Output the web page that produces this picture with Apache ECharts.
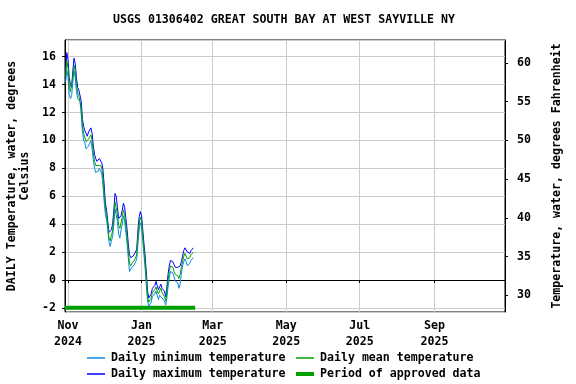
<!DOCTYPE html>
<html>
<head>
<meta charset="utf-8">
<script src="https://cdn.jsdelivr.net/npm/echarts@6/dist/echarts.min.js"></script>
<style>
html,body{margin:0;padding:0;background:#fff;}
#chart{width:576px;height:384px;}
</style>
</head>
<body>
<div id="chart"></div>
<script>
// ---- data ----
const titleText = 'USGS 01306402 GREAT SOUTH BAY AT WEST SAYVILLE NY';
const firstDay = '2024-10-30';
const dailyMax = [
  15.0,16.3,15.8,14.5,14.0,13.8,15.0,15.9,15.5,14.5,
  13.8,13.6,13.5,12.8,11.5,11.0,10.7,10.5,10.3,10.6,
  10.7,10.9,10.5,9.6,9.0,8.7,8.5,8.6,8.7,8.6,
  8.4,7.9,6.8,5.5,5.0,4.2,3.4,3.3,3.6,4.0,
  5.0,6.2,6.0,5.2,4.4,4.3,4.6,5.0,5.5,5.2,
  4.4,3.6,2.6,1.8,1.6,1.6,1.7,1.8,2.0,2.2,
  3.6,4.5,4.9,4.6,3.6,2.6,1.7,0.5,-0.8,-1.3,
  -1.4,-1.0,-0.6,-0.7,-0.4,-0.1,-0.4,-0.7,-0.5,-0.3,
  -0.6,-0.7,-0.8,-1.2,-0.5,0.4,1.0,1.4,1.4,1.3,
  1.1,0.9,1.0,0.9,0.8,1.0,1.3,1.7,2.1,2.3,
  2.2,2.0,1.9,1.9,2.1,2.2,2.3
];
const dailyMin = [
  14.2,15.0,14.6,13.3,13.0,13.2,14.2,15.0,14.5,13.5,
  13.0,12.9,12.8,11.8,10.6,10.0,9.8,9.4,9.3,9.6,
  9.8,10.0,9.4,8.6,8.0,7.7,7.6,7.8,8.0,7.9,
  7.6,6.8,5.6,4.7,4.3,3.6,2.7,2.4,2.8,3.1,
  4.0,5.1,5.0,4.2,3.3,3.0,3.6,4.0,4.6,4.2,
  3.4,2.6,1.6,0.6,0.5,0.9,1.0,1.1,1.3,1.5,
  2.6,3.6,4.1,3.8,2.8,1.8,0.8,-0.4,-1.5,-1.9,
  -1.8,-1.6,-1.2,-1.3,-1.0,-0.8,-1.1,-1.4,-1.1,-1.0,
  -1.3,-1.4,-1.5,-1.8,-1.3,-0.5,0.1,0.6,0.7,0.5,
  0.2,-0.1,0.0,-0.2,-0.6,-0.3,0.4,1.0,1.3,1.5,
  1.3,1.0,1.1,1.2,1.4,1.5,1.6
];
const dailyMean = [
  14.6,15.7,15.2,13.9,13.5,13.5,14.6,15.4,15.0,14.0,
  13.4,13.2,13.1,12.3,11.0,10.5,10.2,9.9,9.8,10.1,
  10.2,10.4,10.0,9.1,8.5,8.2,8.1,8.2,8.3,8.2,
  8.0,7.3,6.2,5.1,4.6,3.9,3.0,2.8,3.2,3.5,
  4.5,5.6,5.5,4.7,3.9,3.7,4.1,4.5,5.0,4.7,
  3.9,3.1,2.1,1.2,1.0,1.2,1.3,1.4,1.6,1.8,
  3.1,4.0,4.5,4.2,3.2,2.2,1.2,0.0,-1.2,-1.6,
  -1.6,-1.3,-0.9,-1.0,-0.7,-0.5,-0.8,-1.0,-0.8,-0.6,
  -0.9,-1.0,-1.2,-1.5,-0.9,0.0,0.6,1.0,1.0,0.9,
  0.6,0.4,0.5,0.3,0.1,0.4,0.9,1.3,1.7,1.9,
  1.8,1.5,1.5,1.6,1.8,1.9,2.0
];
const approvedStart = '2024-10-29T12:00:00Z';
const approvedEnd = '2025-02-14T12:00:00Z';
const approvedLevel = -2;
const xTickDates = ['2024-11-01','2025-01-01','2025-03-01','2025-05-01','2025-07-01','2025-09-01'];
const monthNames = ['Jan','Feb','Mar','Apr','May','Jun','Jul','Aug','Sep','Oct','Nov','Dec'];
const xMinDate = '2024-10-29T12:00:00Z';
const xMaxDate = '2025-10-29T12:00:00Z';
const yMinC = -2.3, yMaxC = 17.2;
const seriesNames = ['Daily minimum temperature','Daily mean temperature','Daily maximum temperature','Period of approved data'];
const seriesColors = ['#0a8ae0','#00a000','#0000ff','#00a000'];

// ---- build ----
const DAY = 86400000;
const t0 = Date.parse(firstDay + 'T00:00:00Z');
function toPairs(arr){ return arr.map((v,i)=>[t0 + i*DAY, v]); }
const tickVals = xTickDates.map(d=>Date.parse(d+'T00:00:00Z'));
const FONT = 'DejaVu Sans Mono';
const txt = {fontFamily: FONT, fontWeight: 'bold', fontSize: 11.6, color: '#000'};

function legendItem(idx, left, top, h){
  return {data: [{name: seriesNames[idx], icon: 'rect', itemStyle: {color: seriesColors[idx]}}],
    left: left, top: top, itemWidth: 18, itemHeight: h, padding: 0,
    textStyle: Object.assign({padding: [0,0,0,1]}, txt)};
}

const chart = echarts.init(document.getElementById('chart'), null, {renderer:'canvas'});
chart.setOption({
  animation: false,
  backgroundColor: '#fff',
  title: {text: titleText, left: 113, top: 14, padding: 0, textStyle: Object.assign({}, txt)},
  grid: {left: 65, right: 71, top: 40, bottom: 72, show: true, borderColor: '#000', borderWidth: 1,
         backgroundColor: 'transparent', containLabel: false, outerBoundsMode: 'none'},
  legend: [
    legendItem(0, 87, 352, 1.5),
    legendItem(1, 296, 352, 1.5),
    legendItem(2, 87, 368, 1.5),
    legendItem(3, 296, 368, 4)
  ],
  xAxis: {
    type: 'value', min: Date.parse(xMinDate), max: Date.parse(xMaxDate),
    axisLine: {show: true, lineStyle: {color: '#000', width: 1}},
    axisTick: {show: true, length: 3, inside: false, customValues: tickVals, lineStyle: {color: '#000'}},
    axisLabel: Object.assign({customValues: tickVals, margin: 6, lineHeight: 16,
      formatter: v => { const d = new Date(v); return monthNames[d.getUTCMonth()] + '\n' + d.getUTCFullYear(); }}, txt),
    splitLine: {show: true, lineStyle: {color: '#cccccc', width: 1}}
  },
  yAxis: [
    {
      type: 'value', min: yMinC, max: yMaxC, splitNumber: 10, position: 'left',
      name: 'DAILY Temperature, water, degrees\nCelsius', nameLocation: 'middle', nameGap: 34, nameRotate: 90,
      nameTextStyle: Object.assign({lineHeight: 13}, txt),
      axisLine: {show: true, lineStyle: {color: '#000'}},
      axisTick: {show: true, length: 3, lineStyle: {color: '#000'}},
      axisLabel: Object.assign({margin: 9, showMinLabel: false, showMaxLabel: false}, txt),
      splitLine: {show: true, lineStyle: {color: '#cccccc', width: 1}}
    },
    {
      type: 'value', min: yMinC*1.8+32, max: yMaxC*1.8+32, splitNumber: 7, position: 'right',
      name: 'Temperature, water, degrees Fahrenheit', nameLocation: 'middle', nameGap: 46, nameRotate: 90,
      nameTextStyle: Object.assign({}, txt),
      axisLine: {show: true, lineStyle: {color: '#000'}},
      axisTick: {show: true, length: 3, lineStyle: {color: '#000'}},
      axisLabel: Object.assign({margin: 12, showMinLabel: false, showMaxLabel: false}, txt),
      splitLine: {show: false}
    }
  ],
  series: [
    {name: seriesNames[3], type: 'line', data: [[Date.parse(approvedStart), approvedLevel],[Date.parse(approvedEnd), approvedLevel]],
     symbol: 'none', lineStyle: {color: seriesColors[3], width: 4}, itemStyle: {color: seriesColors[3]}, z: 2},
    {name: seriesNames[2], type: 'line', data: toPairs(dailyMax), symbol: 'none',
     lineStyle: {color: seriesColors[2], width: 1}, itemStyle: {color: seriesColors[2]}, z: 3},
    {name: seriesNames[0], type: 'line', data: toPairs(dailyMin), symbol: 'none',
     lineStyle: {color: seriesColors[0], width: 1}, itemStyle: {color: seriesColors[0]}, z: 4},
    {name: seriesNames[1], type: 'line', data: toPairs(dailyMean), symbol: 'none',
     lineStyle: {color: seriesColors[1], width: 1}, itemStyle: {color: seriesColors[1]}, z: 5}
  ]
});
</script>
</body>
</html>
